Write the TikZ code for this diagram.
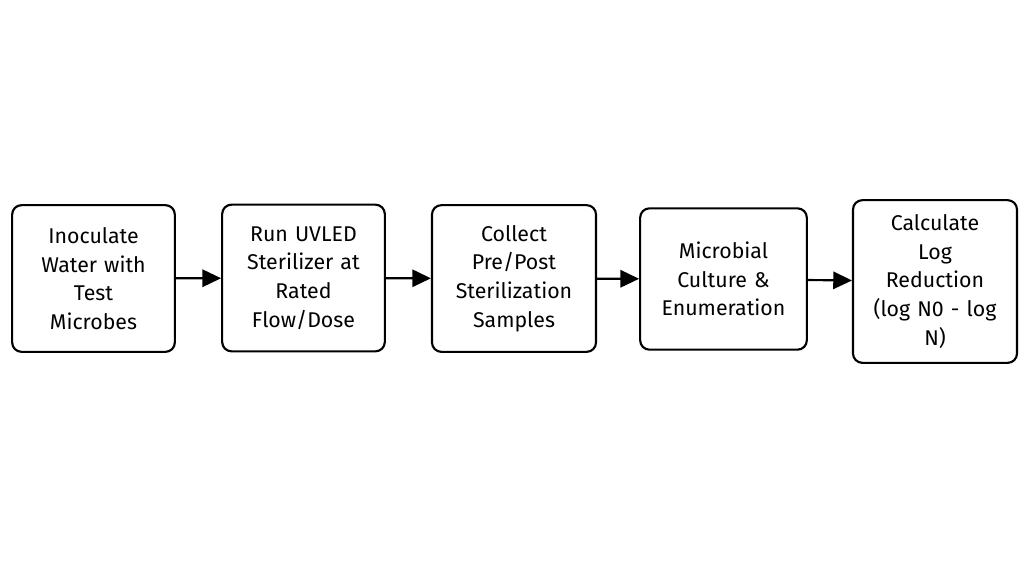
\documentclass[tikz,border=0pt]{standalone}
\usepackage{fontspec}
\setmainfont{Fira Sans}
\usetikzlibrary{arrows.meta}

\tikzset{
  stage/.style={draw, line width=1.6pt, rounded corners=7pt, align=center,
    text width=114pt, font=\fontsize{16}{21.5}\selectfont, inner sep=0pt},
}

\begin{document}
\begin{tikzpicture}[x=0.75pt, y=-0.75pt, >={Triangle[length=14pt,width=13pt]}]
\useasboundingbox (0,0) rectangle (1024,561);
\node [stage, minimum width=122pt, minimum height=110pt] (inoc) at (93.5,278.5) {Inoculate\\Water with\\Test\\Microbes};
\node [stage, minimum width=122pt, minimum height=110pt] (run) at (303.5,278) {Run UVLED\\Sterilizer at\\Rated\\Flow/Dose};
\node [stage, minimum width=123pt, minimum height=110pt] (collect) at (514,278.5) {Collect\\Pre/Post\\Sterilization\\Samples};
\node [stage, minimum width=125pt, minimum height=106pt] (culture) at (723.5,279) {Microbial\\Culture \&\\Enumeration};
\node [stage, minimum width=123pt, minimum height=122pt] (calc) at (935,281.5) {Calculate\\Log\\Reduction\\(log N0 - log\\N)};

\draw [->, line width=1.6pt] (inoc) -- (run);
\draw [->, line width=1.6pt] (run) -- (collect);
\draw [->, line width=1.6pt] (collect) -- (culture);
\draw [->, line width=1.6pt] (culture) -- (calc);
\end{tikzpicture}
\end{document}
